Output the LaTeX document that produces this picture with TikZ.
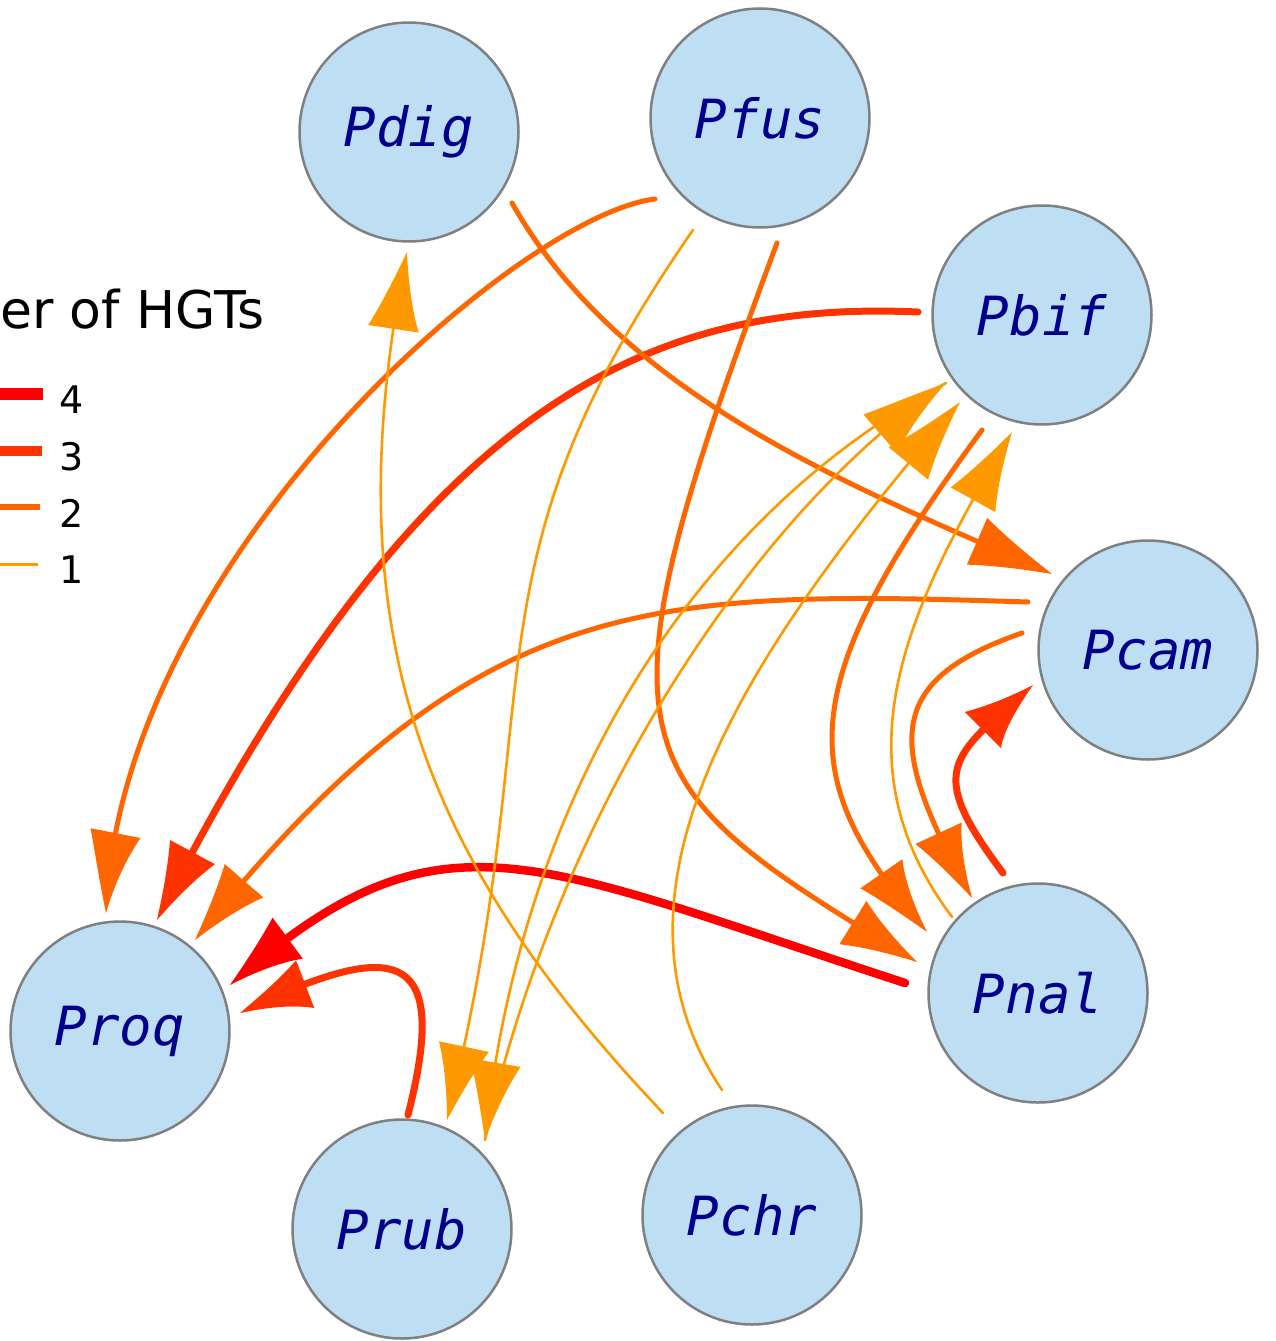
\documentclass[tikz,border=0pt]{standalone}
\usepackage{fontspec}
\setmainfont{DejaVu Sans}
\newfontfamily\labelfont{DejaVu Sans Mono}
\usetikzlibrary{arrows.meta,bending,calc}

\definecolor{hgtone}{RGB}{255,153,0}
\definecolor{hgttwo}{RGB}{255,102,0}
\definecolor{hgtthree}{RGB}{255,51,0}
\definecolor{hgtfour}{RGB}{255,0,0}
\definecolor{nodefill}{RGB}{189,222,243}
\definecolor{nodeline}{RGB}{128,128,128}
\definecolor{labelblue}{RGB}{0,0,140}

% wide arrow head with slightly concave flanks
\pgfdeclarearrow{
  name = HGT,
  parameters = {\the\pgfarrowlength,\the\pgfarrowwidth},
  setup code = {
    \pgfarrowssettipend{0pt}
    \pgfarrowssetbackend{-\pgfarrowlength}
    \pgfarrowssetlineend{-.6\pgfarrowlength}
    \pgfarrowshullpoint{0pt}{0pt}
    \pgfarrowsupperhullpoint{-\pgfarrowlength}{.5\pgfarrowwidth}
    \pgfarrowssavethe\pgfarrowlength
    \pgfarrowssavethe\pgfarrowwidth
  },
  drawing code = {
    \pgfpathmoveto{\pgfqpoint{0pt}{0pt}}
    \pgfpathcurveto{\pgfqpoint{-.33\pgfarrowlength}{.13\pgfarrowwidth}}
                   {\pgfqpoint{-.7\pgfarrowlength}{.3\pgfarrowwidth}}
                   {\pgfqpoint{-\pgfarrowlength}{.5\pgfarrowwidth}}
    \pgfpathlineto{\pgfqpoint{-\pgfarrowlength}{-.5\pgfarrowwidth}}
    \pgfpathcurveto{\pgfqpoint{-.7\pgfarrowlength}{-.3\pgfarrowwidth}}
                   {\pgfqpoint{-.33\pgfarrowlength}{-.13\pgfarrowwidth}}
                   {\pgfqpoint{0pt}{0pt}}
    \pgfpathclose
    \pgfusepathqfill
  },
  defaults = {length = 80pt, width = 51pt}
}

\tikzset{
  species/.style={circle, minimum size=219pt, inner sep=0pt, fill=nodefill,
    draw=nodeline, line width=2.5pt, text=labelblue,
    font=\labelfont\itshape\fontsize{54}{60}\selectfont},
  hgt/.style={line cap=round, -{HGT[bend]}},
  wone/.style={hgt, draw=hgtone, line width=2.6pt},
  wtwo/.style={hgt, draw=hgttwo, line width=5pt},
  wthree/.style={hgt, draw=hgtthree, line width=7pt},
  wfour/.style={hgt, draw=hgtfour, line width=8.5pt},
  legnum/.style={anchor=base, font=\fontsize{38}{44}\selectfont},
}

\begin{document}
\begin{tikzpicture}[x=1pt, y=-1pt]
\useasboundingbox (0,0) rectangle (1275,1341);

% species
\node[species] (pdig) at (409,132) {Pdig};
\node[species] (pfus) at (760,118) {Pfus};
\node[species] (pbif) at (1042,315) {Pbif};
\node[species] (pcam) at (1148,650) {Pcam};
\node[species] (pnal) at (1038,993) {Pnal};
\node[species] (pchr) at (752,1215) {Pchr};
\node[species] (prub) at (402,1229) {Prub};
\node[species] (proq) at (120,1031) {Proq};

% legend
\node[anchor=base east, font=\fontsize{52}{60}\selectfont] (legtitle) at (268,328) {er of HGTs};
\draw[hgtfour, line width=12pt] (0,394) -- (43,394);
\draw[hgtthree, line width=10pt] (0,451) -- (42,451);
\draw[hgttwo, line width=6.3pt] (0,507) -- (40,507);
\draw[hgtone, line width=3pt] (0,564) -- (38,564);
\node[legnum] (legfour) at (72,413) {4};
\node[legnum] (legthree) at (72,470) {3};
\node[legnum] (legtwo) at (72,527) {2};
\node[legnum] (legone) at (72,583) {1};

% four transfers
\draw[wfour] ($(pnal)+(-133,-10)$) .. controls (525,859) and (440,800) .. ($(proq)+(110,-46)$);

% three transfers
\draw[wthree] ($(pbif)+(-124,-3)$) .. controls (650,300) and (420,400) .. ($(proq)+(37,-111)$);
\draw[wthree] ($(prub)+(6,-114)$) .. controls (450,950) and (400,935) .. ($(proq)+(120,-18)$);
\draw[wthree] ($(pnal)+(-35,-120)$) .. controls (925,769) and (950,758) .. ($(pcam)+(-115,35)$);

% two transfers
\draw[wtwo] ($(pfus)+(-105,81)$) .. controls (520,215) and (120,560) .. ($(proq)+(-14,-118)$);
\draw[wtwo] ($(pcam)+(-120,-48)$) .. controls (650,590) and (474,589) .. ($(proq)+(75,-91)$);
\draw[wtwo] ($(pdig)+(103,71)$) .. controls (625,403) and (872,494) .. ($(pcam)+(-96,-76)$);
\draw[wtwo] ($(pfus)+(17,125)$) .. controls (584,760) and (619,780) .. ($(pnal)+(-121,-31)$);
\draw[wtwo] ($(pbif)+(-60,115)$) .. controls (787,694) and (797,780) .. ($(pnal)+(-111,-61)$);
\draw[wtwo] ($(pcam)+(-126,-17)$) .. controls (881,682) and (888,747) .. ($(pnal)+(-66,-95)$);

% single transfers
\draw[wone] ($(pchr)+(-89,-102)$) .. controls (435,872) and (327,644) .. ($(pdig)+(-2,120)$);
\draw[wone] ($(pnal)+(-86,-76)$) .. controls (832,757) and (910,604) .. ($(pbif)+(-30,117)$);
\draw[wone] ($(pchr)+(-30,-125)$) .. controls (582,882) and (765,630) .. ($(pbif)+(-82,87)$);
\draw[wone] ($(pbif)+(-96,68)$) .. controls (690,520) and (520,800) .. ($(prub)+(83,-89)$);
\draw[wone] ($(prub)+(83,-89)$) .. controls (555,820) and (750,515) .. ($(pbif)+(-96,68)$);
\draw[wone] ($(pfus)+(-67,112)$) .. controls (454,574) and (555,684) .. ($(prub)+(45,-109)$);
\end{tikzpicture}
\end{document}
